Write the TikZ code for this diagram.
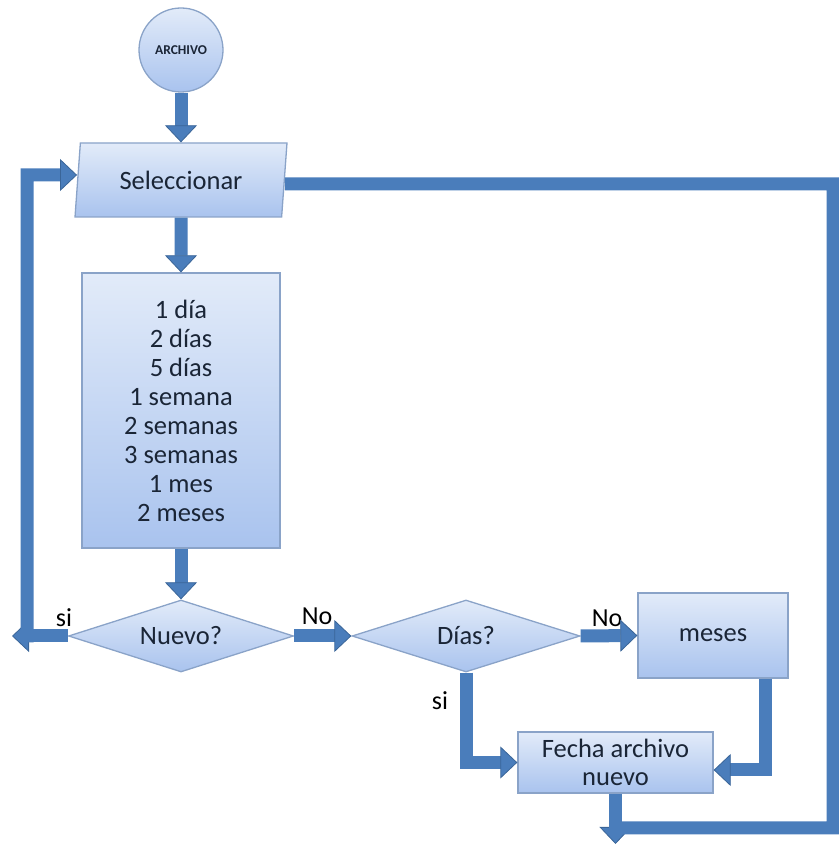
\documentclass[tikz,border=0pt]{standalone}
\usepackage{fontspec}
\setmainfont{Carlito}
\usetikzlibrary{shapes.geometric,arrows.meta,calc}

\definecolor{boxtop}{HTML}{E2EBF9}
\definecolor{boxbot}{HTML}{A9C3EE}
\definecolor{boxborder}{HTML}{8AA3C8}
\definecolor{arrowblue}{HTML}{4A7DBB}
\definecolor{arrowdark}{HTML}{3A6598}
\definecolor{textcol}{HTML}{1A2536}

\tikzset{
  base/.style={draw=boxborder, line width=1.3pt, top color=boxtop, bottom color=boxbot,
    inner sep=0pt, align=center, text=textcol, font=\fontsize{26.5}{29}\selectfont},
  procbox/.style={base, rectangle},
  decision/.style={base, diamond, aspect=3.1},
  inputbox/.style={base, trapezium, trapezium left angle=80, trapezium right angle=100,
    trapezium stretches=true},
  startnode/.style={base, circle, minimum size=84pt, font=\bfseries\fontsize{13.5}{14}\selectfont},
  flowline/.style={line width=13pt, draw=arrowblue, line join=miter},
  flow/.style={flowline, -{Triangle[width=32pt,length=17pt,line width=0.8pt,color=arrowdark,fill=arrowblue]}},
  lbl/.style={font=\fontsize{26}{28}\selectfont, text=black, inner sep=0pt}
}

\begin{document}
\begin{tikzpicture}[x=1pt,y=1pt]
\useasboundingbox (0,0) rectangle (838,846);

% nodes
\node[startnode] (start) at (181,796) {ARCHIVO};
\node[inputbox, minimum width=212pt, minimum height=74pt] (sel) at (181,666) {Seleccionar};
\node[procbox, minimum width=198pt, minimum height=275pt] (list) at (181,435.5)
  {1 día\\2 días\\5 días\\1 semana\\2 semanas\\3 semanas\\1 mes\\2 meses};
\node[decision, minimum width=225pt, minimum height=72pt] (nuevo) at (181,210) {Nuevo?};
\node[decision, minimum width=228pt, minimum height=72pt] (dias) at (466,210) {Días?};
\node[procbox, minimum width=150pt, minimum height=85pt] (meses) at (713,210.5) {meses};
\node[procbox, minimum width=195pt, minimum height=61pt, font=\fontsize{26.5}{28}\selectfont] (fecha) at (615.5,83.5) {Fecha archivo\\nuevo};

% branch labels
\node[lbl] (si1) at (64,228) {si};
\node[lbl] (no1) at (317,230) {No};
\node[lbl] (no2) at (607,228) {No};
\node[lbl] (si2) at (440,145) {si};

% helper points of the loops
\coordinate (siend) at (12,210);
\coordinate (lcorner) at (27,203.5);
\coordinate (ltop) at (27,671);
\coordinate (fechaend) at (615.5,2);
\coordinate (rloop) at (609,18);
\coordinate (rbot) at (833,18);
\coordinate (rtop) at (833,662);
\coordinate (mdown) at (765,76);

% main flow
\draw[flow] (start) -- (sel);
\draw[flow] (sel) -- (list);
\draw[flow] (list) -- (nuevo);
\draw[flow] (nuevo.east) -- (dias.west);
\draw[flow] (dias.east) -- (meses.west);

% "si" of Nuevo? back to Seleccionar
\draw[flow] (nuevo.west) -- (siend);
\draw[flow] (lcorner) -- (ltop) -- ([yshift=5pt]sel.west);

% "si" of Días? and the months branch into the new date
\draw[flow] (dias.south) -- (dias.south |- fecha.west) -- (fecha.west);
\draw[flow] (meses.south -| mdown) -- (mdown) -- (fecha.east |- mdown);

% exit and the loop back to Seleccionar
\draw[flow] (fecha.south) -- (fechaend);
\draw[flowline] (rloop) -- (rbot) -- (rtop) -- ([yshift=-4pt]sel.east);
\end{tikzpicture}
\end{document}
